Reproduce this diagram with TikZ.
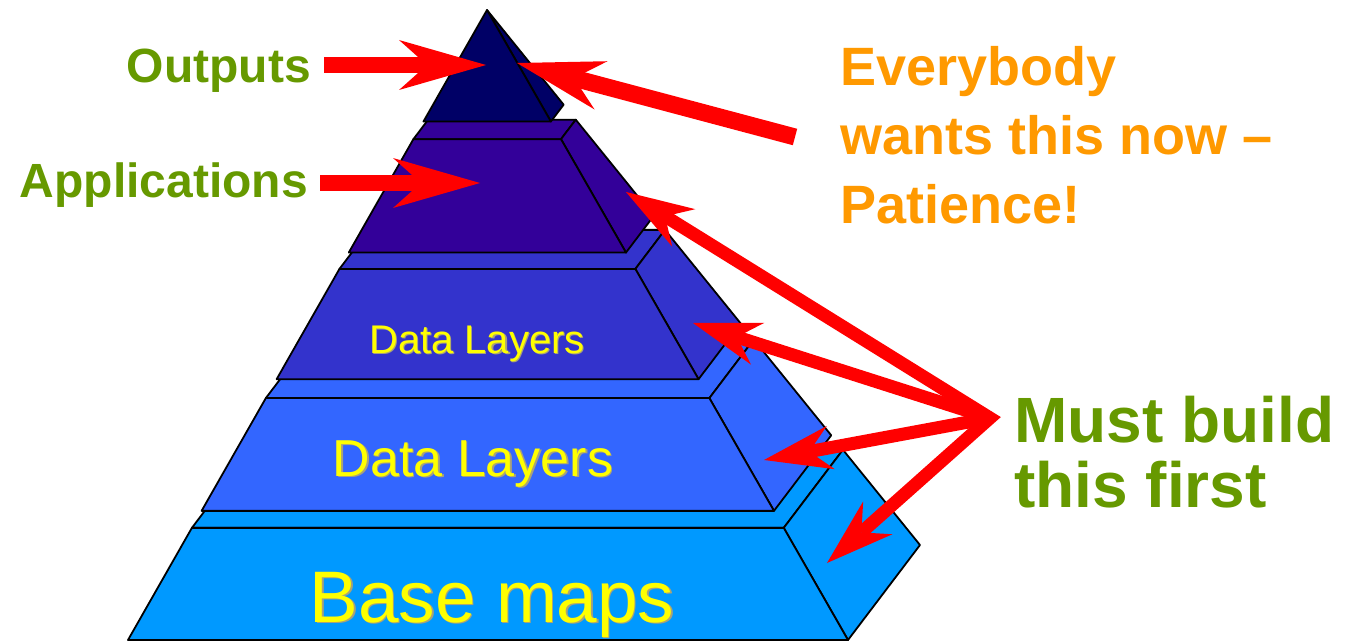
\documentclass[tikz,border=0pt]{standalone}
\usepackage{fontspec}
\setmainfont{Liberation Sans}
\usetikzlibrary{arrows.meta,calc}

\definecolor{tierone}{HTML}{0099FF}
\definecolor{tiertwo}{HTML}{3366FF}
\definecolor{tierthree}{HTML}{3333CC}
\definecolor{tierfour}{HTML}{330099}
\definecolor{tierfive}{HTML}{000066}
\definecolor{labelgreen}{HTML}{669900}
\definecolor{labelorange}{HTML}{FF9900}
\definecolor{labelyellow}{HTML}{FFFF00}
\definecolor{yellowshade}{HTML}{A8A27A}
\definecolor{arrowred}{HTML}{FF0000}

% one slab of the sliced pyramid: #1 = bottom fraction, #2 = top fraction, #3 = colour
\newcommand\pyrslab[3]{%
  \filldraw[face,fill=#3] ($(apex)!#2!(fl)$) -- ($(apex)!#2!(fr)$) -- ($(apex)!#2!(br)$) -- ($(apex)!#2!(bl)$) -- cycle;
  \filldraw[face,fill=#3] ($(apex)!#2!(fr)$) -- ($(apex)!#1!(fr)$) -- ($(apex)!#1!(br)$) -- ($(apex)!#2!(br)$) -- cycle;
  \filldraw[face,fill=#3] ($(apex)!#1!(fl)$) -- ($(apex)!#1!(fr)$) -- ($(apex)!#2!(fr)$) -- ($(apex)!#2!(fl)$) -- cycle;
}

\tikzset{
  face/.style={draw=black,line width=1.8pt,line join=round},
  tiertext/.style={inner sep=0pt,anchor=base,text=labelyellow},
  tiershade/.style={inner sep=0pt,anchor=base,text=yellowshade},
  greenlabel/.style={inner sep=0pt,text=labelgreen,font=\fontsize{48}{58}\selectfont\bfseries},
  orangelabel/.style={inner sep=0pt,anchor=base west,text=labelorange,font=\fontsize{54}{64}\selectfont\bfseries},
  buildlabel/.style={inner sep=0pt,anchor=base west,text=labelgreen,font=\fontsize{64}{70}\selectfont\bfseries},
  bigarrow/.style={draw=arrowred,line width=16pt,
    -{Stealth[length=87pt,width=50pt,inset=28pt,line width=0pt]}},
  smallarrow/.style={draw=arrowred,line width=13pt,line join=miter,
    -{Stealth[length=68pt,width=44pt,inset=22pt,line width=0pt]}},
}

\begin{document}
\begin{tikzpicture}[x=1pt,y=-1pt]
\useasboundingbox (0,0) rectangle (1345,642);

% corners of the whole pyramid
\coordinate (apex) at (487,10);
\coordinate (fl) at (128,640);
\coordinate (fr) at (848,640);
\coordinate (br) at (920,545);
\coordinate (bl) at (200,545);

% slabs, bottom to top
\pyrslab{1}{0.822}{tierone}
\pyrslab{0.795}{0.616}{tiertwo}
\pyrslab{0.586}{0.411}{tierthree}
\pyrslab{0.385}{0.205}{tierfour}
% top tetrahedron
\filldraw[face,fill=tierfive] ($(apex)!0.177!(fr)$) -- ($(apex)!0.177!(br)$) -- (apex) -- cycle;
\filldraw[face,fill=tierfive] ($(apex)!0.177!(fl)$) -- ($(apex)!0.177!(fr)$) -- (apex) -- cycle;

% labels on the slabs
\node[tiershade,font=\fontsize{73}{80}\selectfont] (baseshade) at (493.6,623.6) {Base maps};
\node[tiertext,font=\fontsize{73}{80}\selectfont] (basemaps) at (492,622) {Base maps};
\node[tiershade,font=\fontsize{52}{60}\selectfont] (dataoneshade) at (474.4,477.4) {Data Layers};
\node[tiertext,font=\fontsize{52}{60}\selectfont] (dataone) at (473,476) {Data Layers};
\node[tiershade,font=\fontsize{40}{48}\selectfont] (datatwoshade) at (478.2,354.2) {Data Layers};
\node[tiertext,font=\fontsize{40}{48}\selectfont] (datatwo) at (477,353) {Data Layers};

% side labels
\node[greenlabel,anchor=base east] (outputs) at (311,82) {Outputs};
\node[greenlabel,anchor=base east] (applications) at (308,197) {Applications};
\node[orangelabel] (everyA) at (840,85) {Everybody};
\node[orangelabel] (everyB) at (840,154) {wants this now –};
\node[orangelabel] (everyC) at (840,223) {Patience!};
\node[buildlabel] (buildA) at (1014,442) {Must build};
\node[buildlabel] (buildB) at (1014,507) {this first};

% arrow end points
\coordinate (outtail) at (324,65);
\coordinate (outtip) at (486,65);
\coordinate (apptail) at (320,183);
\coordinate (apptip) at (480,183);
\coordinate (nowtail) at (795,137);
\coordinate (nowtip) at (517,63);
\coordinate (hub) at (990,418);
\coordinate (buildtipA) at (626,192);
\coordinate (buildtipB) at (693,323);
\coordinate (buildtipC) at (764,460);
\coordinate (buildtipD) at (827,563);

% arrows
\draw[bigarrow] (outtail) -- (outtip);
\draw[bigarrow] (apptail) -- (apptip);
\draw[bigarrow,line width=17pt] (nowtail) -- (nowtip);
\draw[smallarrow] (hub) -- (buildtipB);
\draw[smallarrow] (hub) -- (buildtipC);
\draw[smallarrow,{Stealth[length=68pt,width=44pt,inset=22pt,line width=0pt]}-{Stealth[length=68pt,width=44pt,inset=22pt,line width=0pt]}]
  (buildtipA) -- (hub) -- (buildtipD);
\end{tikzpicture}
\end{document}
